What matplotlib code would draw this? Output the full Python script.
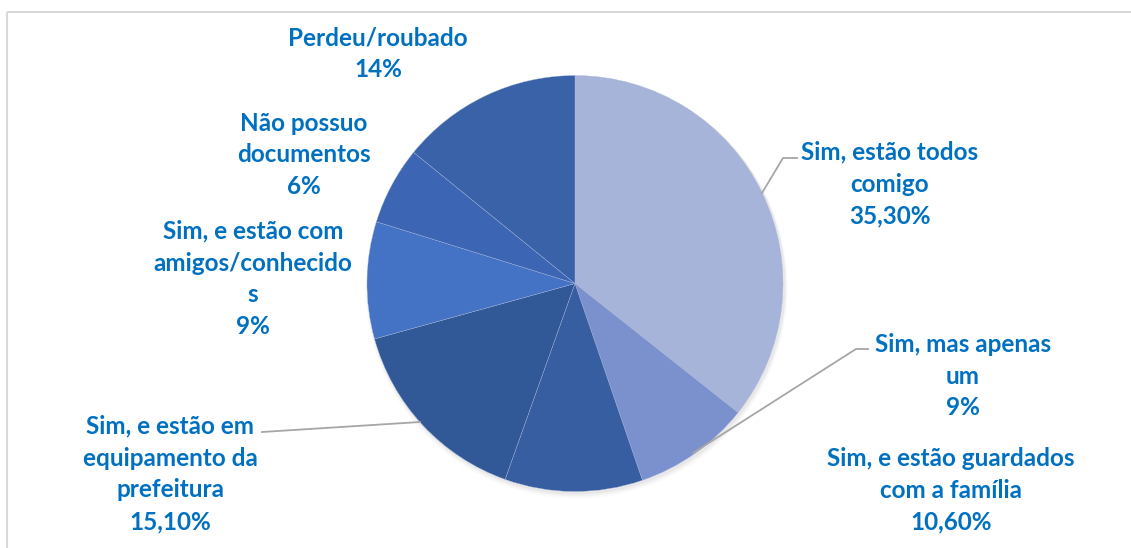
import matplotlib.pyplot as plt
from matplotlib.patches import Rectangle

# data, clockwise from 12 o'clock
categories = [
    "Sim, estão todos\ncomigo",
    "Sim, mas apenas\num",
    "Sim, e estão guardados\ncom a família",
    "Sim, e estão em\nequipamento da\nprefeitura",
    "Sim, e estão com\namigos/conhecido\ns",
    "Não possuo\ndocumentos",
    "Perdeu/roubado",
]
values = [35.3, 9, 10.6, 15.1, 9, 6, 14]
value_labels = ["35,30%", "9%", "10,60%", "15,10%", "9%", "6%", "14%"]
colors = ["#A7B4D9", "#7A91CD", "#375EA0", "#315897", "#4472C4", "#3C66B4", "#3A62A8"]

# label placement (pixel coords, centre of text block)
label_pos = [(890, 184), (963, 376), (951, 490), (170, 474), (253, 279), (304, 155), (378, 54)]

W, H = 1131, 548
fig = plt.figure(figsize=(W / 100, H / 100), dpi=100)
ax = fig.add_axes([0, 0, 1, 1])

# chart frame
ax.add_patch(Rectangle((7, 12), W, H, fill=False, edgecolor="#D9D9D9", linewidth=1.5))

cx, cy, r = 575, 283.5, 208

# soft shadow
for i, a in enumerate([0.04, 0.03, 0.02]):
    ax.add_patch(plt.Circle((cx + 1.5, cy + 2 + i), r + 1 + i, color="black", alpha=a, lw=0))

ax.pie(values, colors=colors, startangle=-90, counterclock=True,
       center=(cx, cy), radius=r, frame=True,
       wedgeprops=dict(edgecolor="#AEBBDD", linewidth=0.25))
ax.set_xlim(0, W)
ax.set_ylim(H, 0)
ax.set_aspect("equal")
ax.axis("off")

txt_color = "#0070C0"
for cat, val, (x, y) in zip(categories, value_labels, label_pos):
    ax.text(x, y, cat + "\n" + val, ha="center", va="center", color=txt_color,
            fontsize=17.5, fontweight="bold", family=["Lato", "DejaVu Sans"],
            linespacing=1.47)

# leader lines
line_kw = dict(color="#A6A6A6", linewidth=1.3)
ax.plot([797, 783, 762], [158, 158, 193], **line_kw)
ax.plot([868, 856, 693], [349, 349, 453], **line_kw)
ax.plot([262, 420], [432, 422], **line_kw)

fig.savefig("out.png", dpi=100)
